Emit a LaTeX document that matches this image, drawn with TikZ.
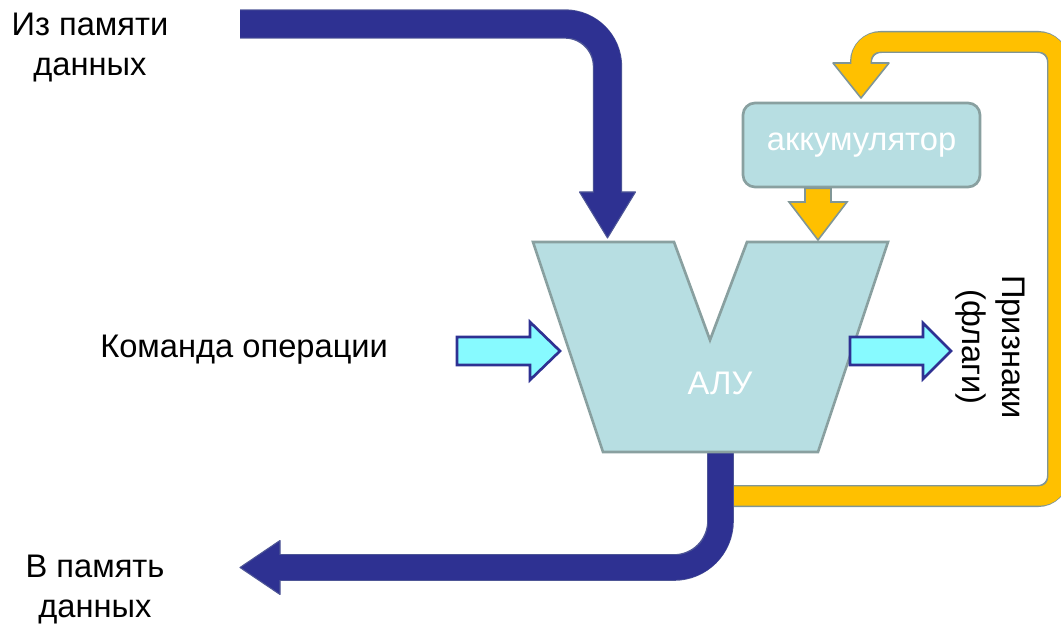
\documentclass[tikz,border=0pt]{standalone}
\usepackage{fontspec}
\setmainfont{Liberation Sans}
\usetikzlibrary{calc}

\definecolor{navy}{RGB}{46,49,146}
\definecolor{navyedge}{RGB}{78,86,150}
\definecolor{unitfill}{RGB}{183,222,226}
\definecolor{unitedge}{RGB}{137,160,160}
\definecolor{amber}{RGB}{255,192,0}
\definecolor{amberedge}{RGB}{128,150,150}
\definecolor{aqua}{RGB}{135,250,255}

\tikzset{
  plaintext/.style={inner sep=0pt, font=\fontsize{24.5}{30}\selectfont},
  unit/.style={fill=unitfill, draw=unitedge, line width=2pt},
  whitetext/.style={text=white, font=\fontsize{24.5}{30}\selectfont},
  flatarrow/.style={fill=aqua, draw=navy, line width=2pt, line join=miter},
  navyhead/.style={fill=navy, draw=navyedge, line width=0.8pt, line join=round},
  amberhead/.style={fill=amber, draw=amberedge, line width=1.2pt, line join=round},
}

\begin{document}
\begin{tikzpicture}[x=0.75pt, y=-0.75pt]
  \useasboundingbox (0,0) rectangle (1061,624);
  \clip (0,0) rectangle (1061,624);

  % ---------- anchor points ----------
  \coordinate (mem-in)   at (240,24);
  \coordinate (alu-in)   at (607.5,238);
  \coordinate (alu-out)  at (720.5,440);
  \coordinate (mem-out)  at (240,567.5);
  \coordinate (fb-start) at (722,496);
  \coordinate (fb-end)   at (861,98);
  \coordinate (acc-tip)  at (818,240);

  % ---------- feedback loop: result back to the accumulator ----------
  \draw[amberedge, line width=16.5pt, rounded corners=15pt]
    (fb-start) -- (1058,496) -- (1058,42) -- (fb-end |- 0,42) -- (fb-end |- 0,64);
  \filldraw[amberhead] (833,63) -- (889,63) -- (fb-end) -- cycle;
  \draw[amber, line width=14.5pt, rounded corners=14pt]
    (fb-start) -- (1058,496) -- (1058,42) -- (fb-end |- 0,42) -- (fb-end |- 0,70);

  % ---------- result to data memory ----------
  \draw[navyedge, line width=20pt, rounded corners=35pt]
    (alu-out) -- (alu-out |- mem-out) -- ($(mem-out)+(40,0)$);
  \filldraw[navyhead] ($(mem-out)+(40,-27)$) -- (mem-out) -- ($(mem-out)+(40,27)$) -- cycle;
  \draw[navy, line width=18.5pt, rounded corners=34pt]
    (alu-out) -- (alu-out |- mem-out) -- ($(mem-out)+(34,0)$);

  % ---------- operand from data memory ----------
  \draw[navyedge, line width=22pt, rounded corners=32pt]
    (mem-in) -- (alu-in |- mem-in) -- ($(alu-in)+(0,-45)$);
  \filldraw[navyhead] ($(alu-in)+(-28,-46)$) -- ($(alu-in)+(28,-46)$) -- (alu-in) -- cycle;
  \draw[navy, line width=20.5pt, rounded corners=31pt]
    (mem-in) -- (alu-in |- mem-in) -- ($(alu-in)+(0,-40)$);

  % ---------- ALU body ----------
  \filldraw[unit, line join=miter]
    (533,242) coordinate (alu-tl) -- (674,242) -- (710,340) -- (747,242)
    -- (888,242) coordinate (alu-tr) -- (818,452) coordinate (alu-br)
    -- (603,452) coordinate (alu-bl) -- cycle;
  \node[whitetext] (alu) at (720,383) {АЛУ};

  % ---------- accumulator ----------
  \node[unit, rounded corners=9pt, minimum width=177.75pt, minimum height=63pt,
        whitetext] (acc) at (861.5,145) {аккумулятор};

  % accumulator -> ALU
  \filldraw[amberhead, line join=miter]
    ($(acc.south -| acc-tip)+(-13,0)$) -- ($(acc.south -| acc-tip)+(13,0)$)
    -- ($(acc-tip)+(13,-38)$) -- ($(acc-tip)+(29,-38)$) -- (acc-tip)
    -- ($(acc-tip)+(-29,-38)$) -- ($(acc-tip)+(-13,-38)$) -- cycle;

  % ---------- operation code in, flags out ----------
  \filldraw[flatarrow]
    (457,337) -- (530,337) -- (530,322) -- (560,351) coordinate (op-tip)
    -- (530,380) -- (530,365) -- (457,365) -- cycle;
  \filldraw[flatarrow]
    (850,337) -- (923,337) -- (923,323) -- (951,351) coordinate (flag-tip)
    -- (923,379) -- (923,365) -- (850,365) -- cycle;

  % ---------- captions ----------
  \node[plaintext, align=center, anchor=north] (src) at (90,13) {Из памяти\\данных};
  \node[plaintext, align=center, anchor=north] (dst) at (95,555) {В память\\данных};
  \node[plaintext, anchor=base west] (op) at (100,357) {Команда операции};
  \node[plaintext, align=center, rotate=-90] (flags) at (990,347) {Признаки\\(флаги)};
\end{tikzpicture}
\end{document}
